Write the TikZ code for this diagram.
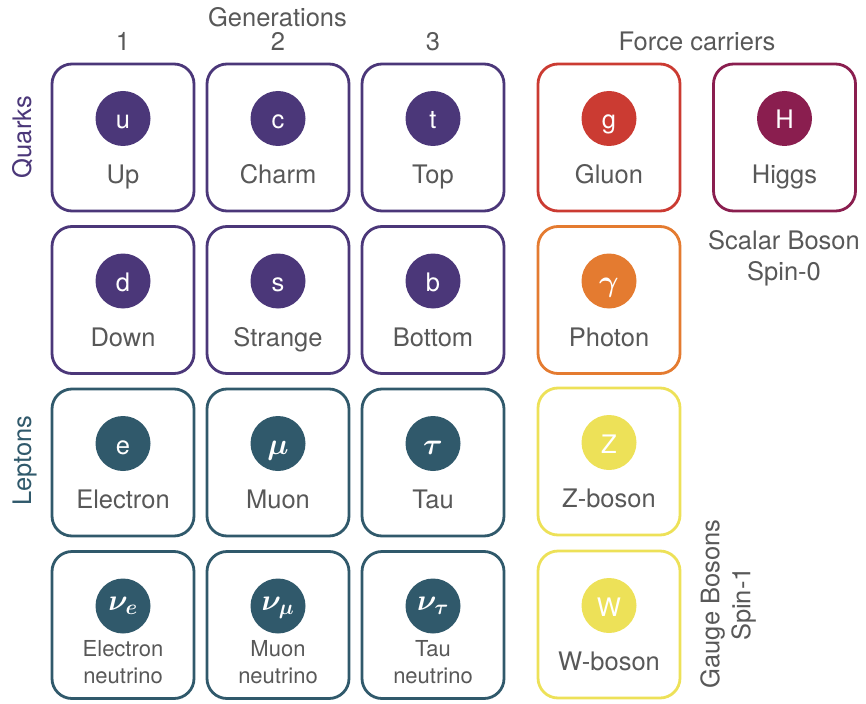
\documentclass[tikz,border=0pt]{standalone}
\usepackage{fix-cm}
\usepackage{fontspec}
\setmainfont{TeX Gyre Heros}

\definecolor{quark}{HTML}{4B3779}
\definecolor{lepton}{HTML}{30596B}
\definecolor{gluon}{HTML}{CB3B32}
\definecolor{photon}{HTML}{E47B30}
\definecolor{weak}{HTML}{EDE158}
\definecolor{higgs}{HTML}{8A1E4F}
\definecolor{txtgray}{HTML}{585858}

% Greek particle symbols, set a little larger and heavier than the Latin ones
\newcommand{\gksym}[1]{{\fontsize{30}{30}\selectfont\boldmath$#1$}}

\begin{document}
\begin{tikzpicture}[x=1pt,y=-1pt,
  card/.style={draw=#1, line width=2.8pt, rounded corners=20pt,
    minimum width=142pt, minimum height=147pt, inner sep=0pt},
  dot/.style={circle, fill=#1, minimum size=55pt, inner sep=0pt, text=white,
    font=\fontsize{25.5}{30}\selectfont, text height=21pt, text depth=0pt},
  partname/.style={text=txtgray, font=\fontsize{25.5}{30}\selectfont,
    inner sep=0pt, anchor=base},
  smallname/.style={text=txtgray, font=\fontsize{22}{27}\selectfont,
    inner sep=0pt, align=center, anchor=base},
  heading/.style={text=txtgray, font=\fontsize{25.5}{30}\selectfont,
    inner sep=0pt, anchor=base},
  note/.style={text=txtgray, font=\fontsize{25.5}{31}\selectfont,
    inner sep=0pt, align=center},
  family/.style={text=#1, font=\fontsize{25.5}{30}\selectfont,
    inner sep=0pt, rotate=90, anchor=base}
]
\useasboundingbox (0,0) rectangle (866,703);

% column headings
\node[heading] (gen)  at (277.5,26.5) {Generations};
\node[heading] (gen1) at (123,50.5) {1};
\node[heading] (gen2) at (278,50.5) {2};
\node[heading] (gen3) at (433,50.5) {3};
\node[heading] (force) at (697,50.5) {Force carriers};

% row families
\node[family=quark]  (quarks)  at (31,137) {Quarks};
\node[family=lepton] (leptons) at (31,460.5) {Leptons};

% particles with a single-line name
\foreach \id/\cx/\cy/\col/\sym/\lab in {
    up/123/137.5/quark/u/Up,
    charm/278/137.5/quark/c/Charm,
    top/433/137.5/quark/t/Top,
    down/123/300/quark/d/Down,
    strange/278/300/quark/s/Strange,
    bottom/433/300/quark/b/Bottom,
    electron/123/462.5/lepton/e/Electron,
    muon/278/462.5/lepton/\gksym{\mu}/Muon,
    tau/433/462.5/lepton/\gksym{\tau}/Tau,
    gluon/609/137.5/gluon/g/Gluon,
    photon/609/300/photon/\gksym{\gamma}/Photon,
    zboson/609/461.5/weak/Z/Z-boson,
    wboson/609/624.5/weak/W/W-boson,
    higgs/784.5/137.5/higgs/H/Higgs}
{
  \node[card=\col] (\id) at (\cx,\cy) {};
  \node[dot=\col] (\id-sym) at ([yshift=19pt]\id.center) {\sym};
  \node[partname] (\id-name) at ([yshift=-46pt]\id.center) {\lab};
}

% neutrinos: subscripted symbols and two-line names
\foreach \id/\cx/\sub/\lab in {
    enu/123/e/Electron,
    munu/278/\mu/Muon,
    taunu/433/\tau/Tau}
{
  \node[card=lepton] (\id) at (\cx,625) {};
  \node[dot=lepton, text height=15pt, text depth=7pt] (\id-sym)
    at ([yshift=19pt]\id.center) {\gksym{\nu_{\sub}}};
  \node[smallname] (\id-name) at ([yshift=-58pt]\id.center) {\lab\\neutrino};
}

% boson classes
\node[note] (scalar) at (784,258) {Scalar Boson\\Spin-0};
\node[note, rotate=90] (gauge) at (728,604) {Gauge Bosons\\Spin-1};
\end{tikzpicture}
\end{document}
